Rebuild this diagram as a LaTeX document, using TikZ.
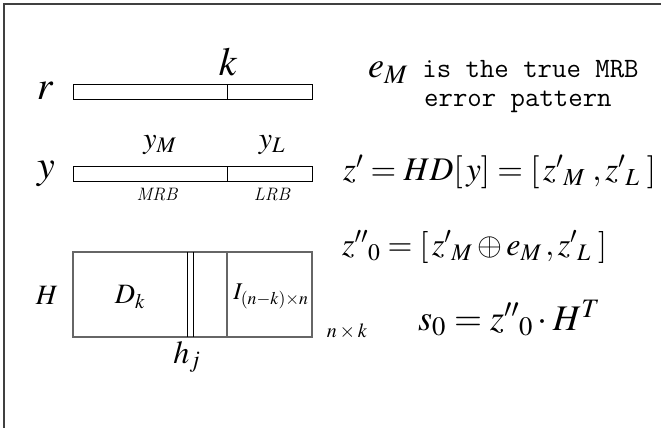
\documentclass[tikz,border=0pt]{standalone}
\usepackage{mathptmx}
\usepackage[no-math]{fontspec}
\newcommand{\setsz}[1]{\fontsize{#1}{#1}\selectfont}
\tikzset{
  lbl/.style={inner sep=0pt, anchor=center},
  bitbar/.style={line width=0.8pt},
  matbox/.style={black!60, line width=1.2pt},
}
\begin{document}
\begin{tikzpicture}[x=1pt, y=-1pt]
    \useasboundingbox (0,0) rectangle (661,428);
    % frame
    \draw[black!75, line width=1.6pt] (4,428) -- (4,4) -- (661,4);

    % received word r
    \draw[bitbar] (73,84) rectangle (312,99);
    \draw[bitbar] (227,84) -- (227,99);
    \node[lbl] (r) at (45,91) {\setsz{40}$r$};
    \node[lbl] (k) at (228,62) {\setsz{40}$k$};

    % hard decision y
    \draw[bitbar] (73,166) rectangle (312,181);
    \draw[bitbar] (227,166) -- (227,181);
    \node[lbl] (y) at (46,174) {\setsz{40}$y$};
    \node[lbl] (yM) at (160,145) {\setsz{30}$y_M$};
    \node[lbl] (yL) at (272,145) {\setsz{30}$y_L$};
    \node[lbl] (mrb) at (157,195) {\setsz{18}\itshape MRB};
    \node[lbl] (lrb) at (272,195) {\setsz{18}\itshape LRB};

    % parity check matrix H
    \draw[matbox] (73,252) rectangle (312,337);
    \draw[matbox] (227,252) -- (227,337);
    \draw[bitbar] (187,252) -- (187,337);
    \draw[bitbar] (193,252) -- (193,337);
    \node[lbl] (H) at (47,295) {\setsz{28}$H$};
    \node[lbl] (Dk) at (130,297) {\setsz{28}$D_{k}$};
    \node[lbl] (I) at (271,296) {\setsz{24}$I_{(n-k)\times n}$};
    \node[lbl] (hj) at (187,357) {\setsz{32}$h_j$};
    \node[lbl] (nk) at (347,331) {\setsz{20}$n\times k$};

    % right hand text
    \node[lbl, anchor=west] (eM) at (368,72)
        {\setsz{36}$e_M$\setsz{28}\ttfamily\ is the true MRB};
    \node[lbl, anchor=west] (err) at (424,102) {\setsz{28}\ttfamily error pattern};
    \node[lbl, anchor=west] (zp) at (343,172)
        {\setsz{33}${z'}=HD[\,y]=[\,{z'}_{M}\;,{z'}_{L}\;]$};
    \node[lbl, anchor=west] (zpp) at (342,247)
        {\setsz{32}${z''}_{0}=[\,{z'}_{M}\oplus e_{M}\,,{z'}_{L}\;]$};
    \node[lbl, anchor=west] (s0) at (418,318)
        {\setsz{36}$s_{0}={z''}_{0}\cdot H^{T}$};
\end{tikzpicture}
\end{document}
